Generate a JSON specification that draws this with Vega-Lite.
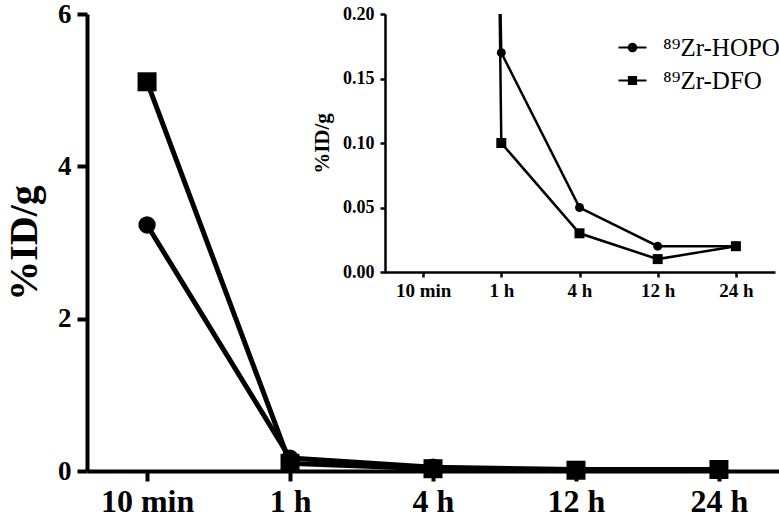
{
  "$schema": "https://vega.github.io/schema/vega-lite/v6.json",
  "width": 692,
  "height": 457,
  "autosize": "none",
  "padding": {"left": 87, "top": 14, "right": 0, "bottom": 50},
  "background": "white",
  "config": {
    "view": {"stroke": null},
    "font": "Liberation Serif",
    "axis": {"grid": false, "domainColor": "black", "tickColor": "black", "labelColor": "black", "titleColor": "black", "labelFont": "Liberation Serif", "titleFont": "Liberation Serif", "labelFontWeight": "bold", "titleFontWeight": "bold"}
  },
  "data": {
    "values": [
      {"time": "10 min", "series": "⁸⁹Zr-HOPO", "value": 3.23},
      {"time": "1 h", "series": "⁸⁹Zr-HOPO", "value": 0.17},
      {"time": "4 h", "series": "⁸⁹Zr-HOPO", "value": 0.05},
      {"time": "12 h", "series": "⁸⁹Zr-HOPO", "value": 0.02},
      {"time": "24 h", "series": "⁸⁹Zr-HOPO", "value": 0.02},
      {"time": "10 min", "series": "⁸⁹Zr-DFO", "value": 5.11},
      {"time": "1 h", "series": "⁸⁹Zr-DFO", "value": 0.10},
      {"time": "4 h", "series": "⁸⁹Zr-DFO", "value": 0.03},
      {"time": "12 h", "series": "⁸⁹Zr-DFO", "value": 0.01},
      {"time": "24 h", "series": "⁸⁹Zr-DFO", "value": 0.02}
    ]
  },
  "layer": [
    {
      "layer": [
        {
          "mark": {"type": "line", "color": "black", "strokeWidth": 5},
          "encoding": {
            "x": {"field": "time", "type": "ordinal", "sort": ["10 min", "1 h", "4 h", "12 h", "24 h"], "scale": {"type": "point", "padding": 0.42}, "axis": {"title": null, "labelAngle": 0, "labelFontSize": 32, "domainWidth": 4, "tickWidth": 4, "tickSize": 10, "labelPadding": 5}},
            "y": {"field": "value", "type": "quantitative", "scale": {"domain": [0, 6]}, "axis": {"title": "%ID/g", "values": [0, 2, 4, 6], "format": "d", "labelFontSize": 27, "titleFontSize": 40, "domainWidth": 4, "tickWidth": 4, "tickSize": 10, "labelPadding": 6, "titlePadding": 13}},
            "detail": {"field": "series"}
          }
        },
        {
          "mark": {"type": "point", "filled": true, "color": "black", "opacity": 1},
          "encoding": {
            "x": {"field": "time", "type": "ordinal", "sort": ["10 min", "1 h", "4 h", "12 h", "24 h"]},
            "y": {"field": "value", "type": "quantitative"},
            "shape": {"field": "series", "type": "nominal", "scale": {"domain": ["⁸⁹Zr-HOPO", "⁸⁹Zr-DFO"], "range": ["circle", "square"]}, "legend": null},
            "size": {"condition": {"test": "datum.series == '⁸⁹Zr-HOPO'", "value": 300}, "value": 361}
          }
        },
        {
          "mark": {"type": "point", "filled": true, "color": "black", "opacity": 0},
          "encoding": {
            "x": {"field": "time", "type": "ordinal", "sort": ["10 min", "1 h", "4 h", "12 h", "24 h"]},
            "y": {"field": "value", "type": "quantitative"},
            "shape": {"field": "series", "type": "nominal",
              "scale": {"domain": ["⁸⁹Zr-HOPO", "⁸⁹Zr-DFO"], "range": ["M-1.4,-0.11H1.4V0.11H-1.4Z M0.48,0A0.48,0.48 0 1,1 -0.48,0A0.48,0.48 0 1,1 0.48,0Z", "M-1.4,-0.11H1.4V0.11H-1.4Z M-0.46,-0.46H0.46V0.46H-0.46Z"]},
              "legend": {"title": null, "orient": "none", "legendX": 533, "legendY": 21, "padding": 0, "symbolSize": 400, "symbolOpacity": 1, "rowPadding": 7, "labelOffset": 18, "labelFont": "Liberation Serif", "labelFontSize": 25, "labelColor": "black", "symbolFillColor": "black", "symbolStrokeWidth": 0}}
          }
        }
      ],
      "resolve": {"scale": {"shape": "independent"}}
    },
    {
      "layer": [
        {
          "mark": {"type": "line", "color": "black", "strokeWidth": 2.5, "clip": true},
          "encoding": {
            "x": {"field": "time", "type": "ordinal", "sort": ["10 min", "1 h", "4 h", "12 h", "24 h"], "scale": {"type": "point", "padding": 0.5, "range": [297, 688]}, "axis": {"title": null, "orient": "bottom", "offset": -199, "labelAngle": 0, "labelFontSize": 19, "domainWidth": 2.5, "tickWidth": 2.5, "tickSize": 5, "labelPadding": 4}},
            "y": {"field": "value", "type": "quantitative", "scale": {"domain": [0, 0.2], "range": [258, 0], "nice": false}, "axis": {"title": "%ID/g", "orient": "left", "offset": -298, "values": [0, 0.05, 0.1, 0.15, 0.2], "format": ".2f", "labelFontSize": 18, "titleFontSize": 21, "domainWidth": 2.5, "tickWidth": 2.5, "tickSize": 5, "labelPadding": 6, "titlePadding": 10}},
            "detail": {"field": "series"}
          }
        },
        {
          "mark": {"type": "point", "filled": true, "color": "black", "opacity": 1, "clip": true},
          "encoding": {
            "x": {"field": "time", "type": "ordinal", "sort": ["10 min", "1 h", "4 h", "12 h", "24 h"]},
            "y": {"field": "value", "type": "quantitative"},
            "shape": {"field": "series", "type": "nominal", "scale": {"domain": ["⁸⁹Zr-HOPO", "⁸⁹Zr-DFO"], "range": ["circle", "square"]}, "legend": null},
            "size": {"condition": {"test": "datum.series == '⁸⁹Zr-HOPO'", "value": 80}, "value": 100}
          }
        }
      ]
    }
  ],
  "resolve": {"scale": {"x": "independent", "y": "independent", "size": "independent", "shape": "independent"}, "axis": {"x": "independent", "y": "independent"}}
}
